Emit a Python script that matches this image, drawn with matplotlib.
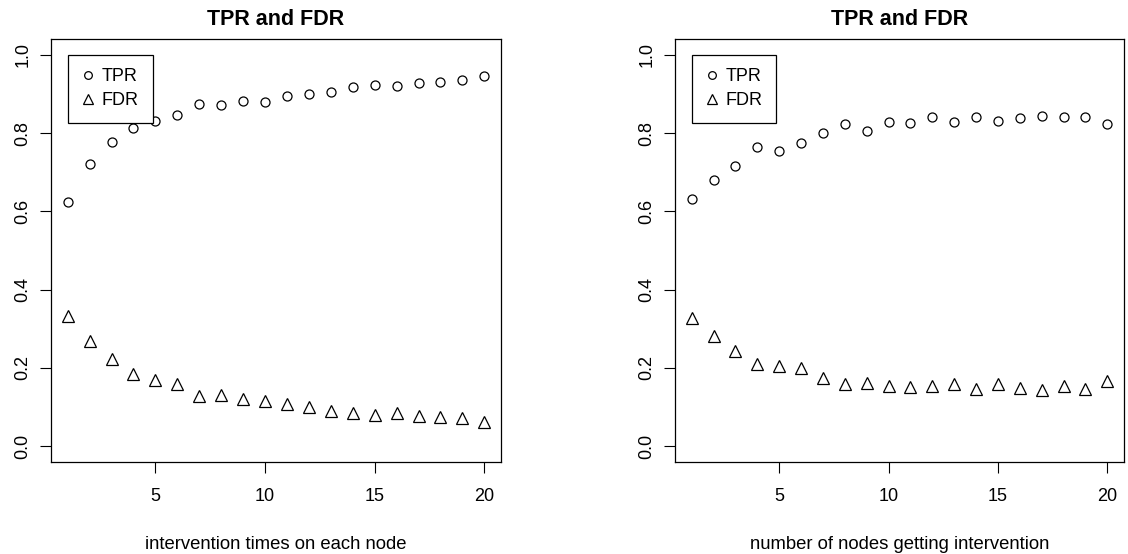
import numpy as np
import matplotlib.pyplot as plt

plt.rcParams['font.family'] = ['Liberation Sans', 'DejaVu Sans']

x = np.arange(1, 21)

# left panel: intervention times on each node
tpr_left = [0.625, 0.720, 0.778, 0.812, 0.830, 0.845, 0.875, 0.872, 0.882, 0.880,
            0.895, 0.900, 0.905, 0.918, 0.922, 0.920, 0.928, 0.930, 0.935, 0.945]
fdr_left = [0.332, 0.269, 0.223, 0.184, 0.170, 0.160, 0.129, 0.131, 0.120, 0.115,
            0.108, 0.100, 0.091, 0.086, 0.081, 0.084, 0.077, 0.076, 0.072, 0.063]

# right panel: number of nodes getting intervention
tpr_right = [0.631, 0.679, 0.716, 0.763, 0.754, 0.775, 0.800, 0.824, 0.805, 0.829,
             0.825, 0.841, 0.828, 0.840, 0.830, 0.838, 0.843, 0.842, 0.840, 0.823]
fdr_right = [0.328, 0.282, 0.244, 0.210, 0.205, 0.201, 0.175, 0.160, 0.162, 0.155,
             0.152, 0.154, 0.160, 0.146, 0.159, 0.148, 0.145, 0.153, 0.147, 0.168]

xlabels = ['intervention times on each node', 'number of nodes getting intervention']

fig = plt.figure(figsize=(11.28, 5.54), dpi=100)
W, H = 1128, 554
boxes = [(51, 39, 501, 462), (675, 39, 1124, 462)]

for (l, t, r, b), tpr, fdr, xl in zip(boxes, [tpr_left, tpr_right], [fdr_left, fdr_right], xlabels):
    ax = fig.add_axes([l / W, 1 - b / H, (r - l) / W, (b - t) / H])
    ax.plot(x, tpr, linestyle='none', marker='o', markersize=6.5,
            markerfacecolor='none', markeredgecolor='black', markeredgewidth=0.9, label='TPR')
    ax.plot(x, fdr, linestyle='none', marker='^', markersize=8.5,
            markerfacecolor='none', markeredgecolor='black', markeredgewidth=0.9, label='FDR')
    ax.set_xlim(0.24, 20.76)
    ax.set_ylim(-0.04, 1.04)
    ax.set_xticks([5, 10, 15, 20])
    ax.set_yticks([0.0, 0.2, 0.4, 0.6, 0.8, 1.0])
    ax.set_yticklabels(['0.0', '0.2', '0.4', '0.6', '0.8', '1.0'], rotation=90, va='center')
    ax.tick_params(direction='out', length=8, width=0.8, labelsize=13)
    ax.tick_params(axis='x', pad=11)
    ax.tick_params(axis='y', pad=6)
    for s in ax.spines.values():
        s.set_linewidth(0.9)
    ax.set_title('TPR and FDR', fontsize=15.5, fontweight='bold', pad=10)
    ax.set_xlabel(xl, fontsize=13.3, labelpad=22)
    leg = ax.legend(loc='upper left', bbox_to_anchor=(1.0, 1.0), bbox_transform=ax.transData,
                    fancybox=False, framealpha=1, edgecolor='black', fontsize=13,
                    borderpad=0.75, labelspacing=0.4, handletextpad=0.35, handlelength=0.8,
                    borderaxespad=0, markerscale=0.85)
    leg.get_frame().set_linewidth(0.9)

fig.savefig('out.png', dpi=100)
